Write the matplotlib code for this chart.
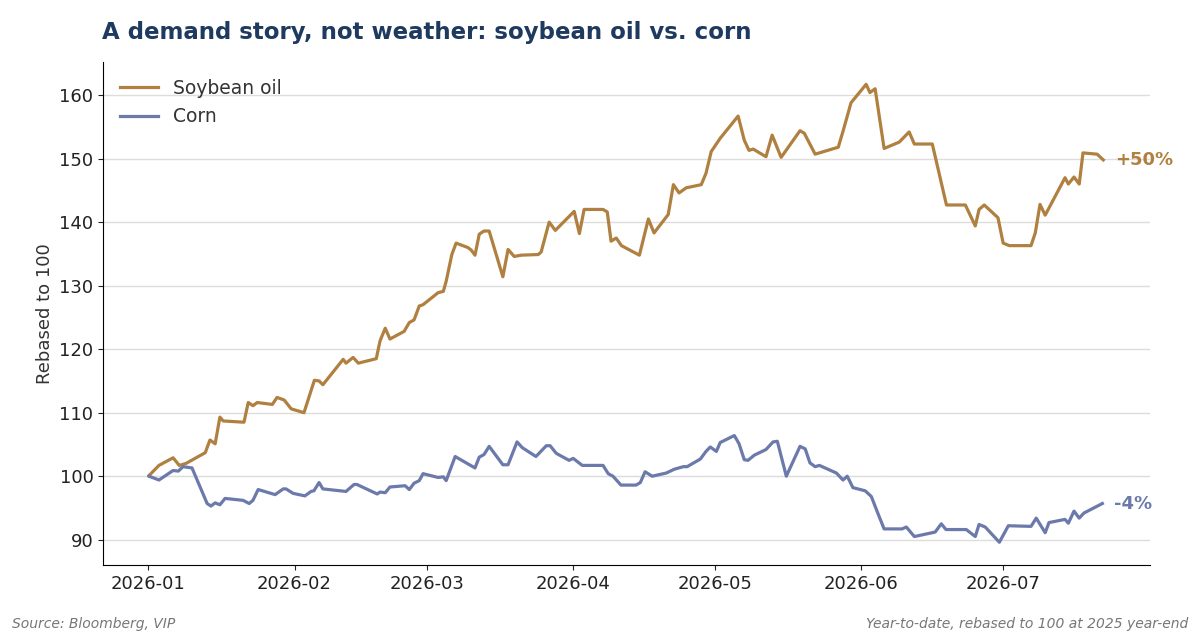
import numpy as np
import matplotlib
matplotlib.use("Agg")
import matplotlib.pyplot as plt
import matplotlib.dates as mdates

# Days since 2026-01-01
soy_days = [0.2, 2.3, 5.3, 6.6, 8.0, 12.1, 13.1, 14.2, 15.2, 15.9,
            20.3, 21.2, 22.2, 23.1, 26.3, 27.3, 28.8, 30.3, 33.0, 35.2,
            36.2, 37.0, 41.3, 41.9, 43.4, 44.5, 48.3, 49.1, 50.2, 51.2,
            54.2, 55.3, 56.3, 57.4, 58.2, 61.4, 62.5, 63.1, 64.3, 65.2,
            67.7, 68.4, 69.2, 70.1, 71.1, 72.2, 75.1, 76.2, 77.5, 79.0,
            82.6, 83.2, 84.9, 86.2, 90.2, 91.3, 92.3, 96.3, 97.2, 98.0,
            99.1, 100.2, 104.0, 105.9, 107.1, 110.1, 111.2, 112.4, 113.9, 117.1,
            118.1, 119.2, 121.1, 124.9, 126.2, 127.2, 128.1, 130.8, 132.1, 134.0,
            138.0, 138.9, 141.2, 146.1, 147.1, 148.8, 152.0, 152.8, 153.9, 155.8,
            159.0, 161.1, 162.2, 166.0, 169.0, 173.0, 175.1, 175.9, 177.0, 179.9,
            181.0, 182.3, 186.9, 187.8, 188.8, 189.9, 194.1, 194.8, 196.0, 197.1,
            197.9, 200.9, 202.2]
soy_vals = [100.1, 101.7, 102.9, 101.7, 102.0, 103.7, 105.7, 105.1, 109.3, 108.7,
            108.5, 111.6, 111.1, 111.6, 111.3, 112.4, 112.0, 110.6, 110.0, 115.1,
            115.0, 114.4, 118.4, 117.8, 118.7, 117.8, 118.5, 121.3, 123.3, 121.6,
            122.8, 124.2, 124.6, 126.8, 127.0, 128.9, 129.1, 130.7, 134.9, 136.7,
            136.0, 135.6, 134.8, 138.1, 138.6, 138.6, 131.4, 135.7, 134.6, 134.8,
            134.9, 135.3, 140.0, 138.7, 141.7, 138.2, 142.0, 142.0, 141.6, 137.0,
            137.5, 136.3, 134.8, 140.5, 138.3, 141.2, 145.9, 144.6, 145.4, 145.9,
            147.7, 151.1, 153.2, 156.7, 152.9, 151.3, 151.5, 150.3, 153.7, 150.2,
            154.4, 154.0, 150.7, 151.8, 154.3, 158.8, 161.7, 160.4, 161.0, 151.6,
            152.6, 154.2, 152.3, 152.3, 142.7, 142.7, 139.4, 142.0, 142.7, 140.7,
            136.7, 136.3, 136.3, 138.3, 142.8, 141.1, 147.0, 146.0, 147.1, 146.0,
            150.9, 150.7, 149.8]

corn_days = [0.2, 2.3, 5.3, 6.4, 7.4, 9.3, 12.5, 13.3, 14.2, 15.2,
             16.3, 20.1, 21.4, 22.2, 23.3, 26.9, 28.6, 29.2, 30.7, 33.2,
             34.5, 35.1, 36.2, 37.0, 41.9, 43.6, 44.2, 48.5, 49.1, 50.2,
             51.2, 54.4, 55.3, 56.3, 57.4, 58.2, 61.4, 62.5, 63.1, 65.0,
             69.2, 70.1, 71.1, 72.2, 75.1, 76.2, 78.1, 79.2, 82.1, 84.3,
             85.1, 86.4, 89.1, 90.0, 91.9, 96.3, 97.4, 98.4, 100.1, 103.3,
             104.2, 105.2, 106.7, 109.7, 111.4, 113.3, 114.1, 116.9, 118.1, 119.0,
             120.3, 121.1, 124.1, 125.1, 126.2, 127.0, 128.3, 130.8, 132.3, 133.2,
             135.1, 138.0, 139.1, 140.1, 141.2, 142.1, 145.7, 147.1, 148.0, 149.2,
             151.8, 153.1, 154.3, 155.8, 159.6, 160.5, 162.2, 166.6, 167.9, 168.9,
             173.2, 175.1, 175.9, 177.2, 180.2, 182.1, 186.9, 188.0, 189.9, 190.7,
             194.1, 194.8, 196.0, 197.1, 198.1, 202.0]
corn_vals = [100.0, 99.4, 100.9, 100.8, 101.5, 101.3, 95.7, 95.3, 95.8, 95.5,
             96.5, 96.2, 95.7, 96.2, 97.9, 97.1, 98.0, 98.0, 97.3, 96.9,
             97.6, 97.7, 99.0, 98.0, 97.6, 98.7, 98.7, 97.2, 97.5, 97.4,
             98.3, 98.5, 97.9, 98.9, 99.3, 100.4, 99.8, 99.9, 99.3, 103.1,
             101.3, 103.0, 103.4, 104.7, 101.8, 101.8, 105.4, 104.5, 103.1, 104.8,
             104.8, 103.6, 102.5, 102.8, 101.7, 101.7, 100.4, 100.0, 98.6, 98.6,
             99.0, 100.7, 100.0, 100.5, 101.1, 101.5, 101.5, 102.7, 103.9, 104.6,
             103.9, 105.3, 106.4, 105.1, 102.6, 102.5, 103.3, 104.2, 105.4, 105.5,
             100.0, 104.7, 104.3, 102.1, 101.5, 101.7, 100.5, 99.4, 100.0, 98.2,
             97.7, 96.8, 94.5, 91.7, 91.7, 92.0, 90.5, 91.2, 92.5, 91.6,
             91.6, 90.5, 92.4, 92.0, 89.6, 92.2, 92.1, 93.4, 91.1, 92.7,
             93.2, 92.6, 94.5, 93.4, 94.2, 95.7]

month_ticks = ["2026-01-01", "2026-02-01", "2026-03-01", "2026-04-01",
               "2026-05-01", "2026-06-01", "2026-07-01"]

soy_color = "#b08040"
corn_color = "#6b7aab"
start = mdates.date2num(np.datetime64("2026-01-01"))

fig = plt.figure(figsize=(12, 6.4), dpi=100)
ax = fig.add_axes([0.086, 0.117, 0.872, 0.786])

ax.plot(start + np.array(soy_days), soy_vals, color=soy_color, lw=2.3, label="Soybean oil")
ax.plot(start + np.array(corn_days), corn_vals, color=corn_color, lw=2.3, label="Corn")
ax.axhline(100, color="#999999", lw=0.8, ls=":", zorder=0)

ax.text(start + soy_days[-1] + 2.5, soy_vals[-1], f"+{soy_vals[-1] - 100:.0f}%",
        color=soy_color, fontsize=13, fontweight="bold", va="center")
ax.text(start + corn_days[-1] + 2.5, corn_vals[-1], f"{corn_vals[-1] - 100:.0f}%",
        color=corn_color, fontsize=13, fontweight="bold", va="center")

ax.set_xlim(start - 9.5, start + 212)
ax.set_ylim(86, 165.2)
ax.set_yticks([90, 100, 110, 120, 130, 140, 150, 160])
ax.set_xticks(mdates.date2num(np.array(month_ticks, dtype="datetime64[D]")))
ax.xaxis.set_major_formatter(mdates.DateFormatter("%Y-%m"))
ax.grid(axis="y", color="#dddddd", lw=1)
ax.set_axisbelow(True)
for s in ["top", "right"]:
    ax.spines[s].set_visible(False)
ax.tick_params(labelsize=13, colors="#222222")
ax.set_ylabel("Rebased to 100", fontsize=13, color="#333333")
leg = ax.legend(loc="upper left", frameon=False, fontsize=13.5)
for t in leg.get_texts():
    t.set_color("#333333")

fig.text(0.085, 0.95, "A demand story, not weather: soybean oil vs. corn",
         fontsize=16.5, fontweight="bold", color="#1f3a5f", va="center")
fig.text(0.01, 0.018, "Source: Bloomberg, VIP", fontsize=10, style="italic", color="#777777")
fig.text(0.99, 0.018, "Year-to-date, rebased to 100 at 2025 year-end", fontsize=10,
         style="italic", color="#777777", ha="right")

fig.savefig("out.png", dpi=100)
